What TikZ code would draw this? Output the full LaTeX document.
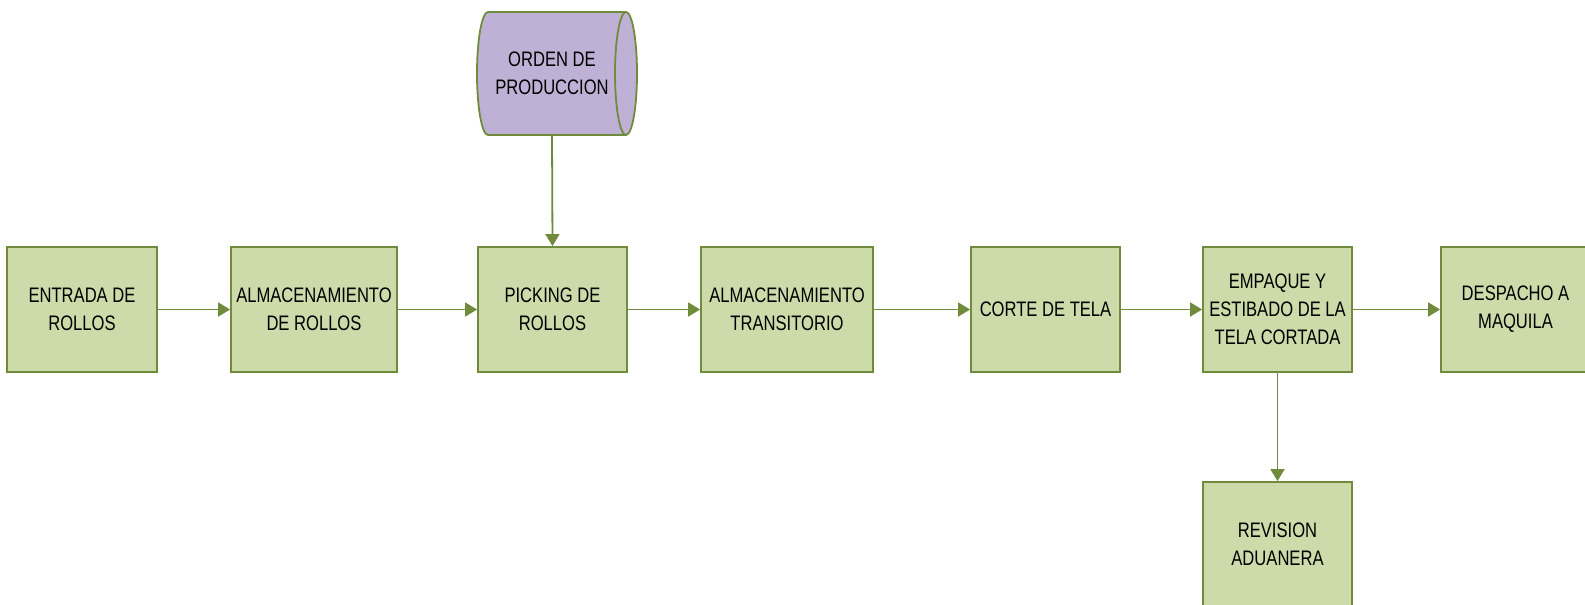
\documentclass[tikz,border=0pt]{standalone}
\usepackage{fontspec}
\setmainfont{Liberation Sans}[FakeStretch=0.79]
\usepackage{tikz}
\usetikzlibrary{arrows.meta}

\definecolor{verde}{HTML}{CCDBA9}
\definecolor{borde}{HTML}{6F8B3B}
\definecolor{lila}{HTML}{BFB1D5}

\tikzset{
  caja/.style={draw=borde, fill=verde, line width=0.9pt, minimum width=74.5pt,
    minimum height=62.5pt, inner sep=1pt, align=center, font=\fontsize{10.5}{14}\selectfont,
    text=black},
  flecha/.style={draw=borde, line width=0.9pt, -{Triangle[length=6pt,width=7pt]}}
}

\begin{document}
\begin{tikzpicture}[x=0.5pt, y=-0.5pt]
\clip (0,0) rectangle (1585,605);

% cilindro de la orden
\filldraw[draw=borde, fill=lila, line width=0.9pt] (488,12) -- (626,12)
  arc[start angle=-90, end angle=90, x radius=11, y radius=61.5] -- (488,135)
  arc[start angle=90, end angle=270, x radius=11, y radius=61.5] -- cycle;
\draw[borde, line width=0.9pt] (626,135) arc[start angle=90, end angle=270, x radius=11, y radius=61.5];
\node[align=center, minimum height=61.5pt, inner sep=0pt, text=black,
  font=\fontsize{10.5}{14}\selectfont] (orden) at (552,73.5) {ORDEN DE\\PRODUCCION};

% procesos
\node[caja, minimum width=75pt] (entrada) at (82,309.5) {ENTRADA DE\\ROLLOS};
\node[caja, minimum width=83pt] (almacen) at (314,309.5) {ALMACENAMIENTO\\DE ROLLOS};
\node[caja] (picking) at (552.5,309.5) {PICKING DE\\ROLLOS};
\node[caja, minimum width=86pt] (transito) at (787,309.5) {ALMACENAMIENTO\\TRANSITORIO};
\node[caja] (corte) at (1045.5,309.5) {CORTE DE TELA};
\node[caja] (empaque) at (1277.5,309.5) {EMPAQUE Y\\ESTIBADO DE LA\\TELA CORTADA};
\node[caja] (despacho) at (1515.5,309.5) {DESPACHO A\\MAQUILA};
\node[caja] (revision) at (1277.5,544.5) {REVISION\\ADUANERA};

% flechas
\draw[flecha] (orden.south) -- (picking.north);
\draw[flecha] (entrada) -- (almacen);
\draw[flecha] (almacen) -- (picking);
\draw[flecha] (picking) -- (transito);
\draw[flecha] (transito) -- (corte);
\draw[flecha] (corte) -- (empaque);
\draw[flecha] (empaque) -- (despacho);
\draw[flecha] (empaque) -- (revision);
\end{tikzpicture}
\end{document}
